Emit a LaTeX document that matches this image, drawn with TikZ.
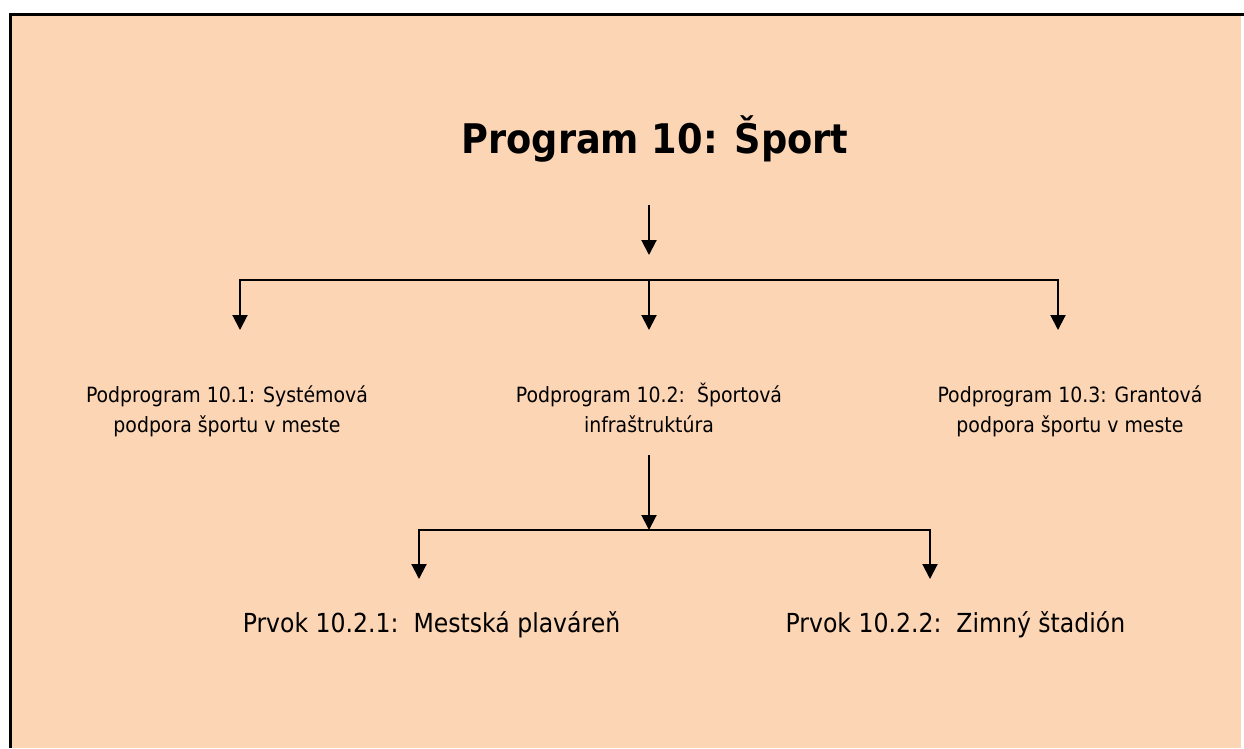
\documentclass[tikz,border=0pt]{standalone}
\usepackage{fontspec}
\setmainfont{DejaVu Sans Condensed}
\usetikzlibrary{arrows.meta}
\definecolor{tan}{RGB}{252,213,181}
\tikzset{
  arr/.style={line width=2pt,-{Triangle[length=15pt,width=15pt]}},
  sub/.style={align=center,anchor=base,font=\fontsize{21}{29.5}\selectfont,inner sep=0pt},
  elem/.style={anchor=base,font=\fontsize{26.2}{30}\selectfont,inner sep=0pt},
  ttl/.style={anchor=base,font=\fontsize{40.8}{48}\selectfont\bfseries,inner sep=0pt}
}
\begin{document}
\begin{tikzpicture}[x=1pt,y=-1pt]
\useasboundingbox (0,0) rectangle (1244,748);
\fill[white] (0,0) rectangle (1244,748);
\fill[tan] (12,16) rectangle (1241,748);
\fill[black] (9,13) rectangle (1244,16);
\fill[black] (9,13) rectangle (12,748);

\node[ttl] (title) at (655,153) {Program 10: Šport};

\coordinate (t0) at (649,205);
\coordinate (t1) at (649,255);
\coordinate (j1) at (649,280);
\coordinate (a1) at (240,330);
\coordinate (a2) at (649,330);
\coordinate (a3) at (1058,330);
\draw[arr] (t0) -- (t1);
\draw[arr] (j1) -| (a1);
\draw[arr] (j1) -- (a2);
\draw[arr] (j1) -| (a3);

\node[sub] (p1) at (227,432) {Podprogram 10.1: Systémová\\podpora športu v meste};
\node[sub] (p2) at (649,432) {Podprogram 10.2:\ \ Športová\\infraštruktúra};
\node[sub] (p3) at (1070,432) {Podprogram 10.3: Grantová\\podpora športu v meste};

\coordinate (m0) at (649,455);
\coordinate (j2) at (649,530);
\coordinate (b1) at (419,579);
\coordinate (b2) at (930,579);
\draw[arr] (m0) -- (j2);
\draw[arr] (j2) -| (b1);
\draw[arr] (j2) -| (b2);

\node[elem] (e1) at (431.5,632) {Prvok 10.2.1:\ \ Mestská plaváreň};
\node[elem] (e2) at (955.5,632) {Prvok 10.2.2:\ \ Zimný štadión};
\end{tikzpicture}
\end{document}
